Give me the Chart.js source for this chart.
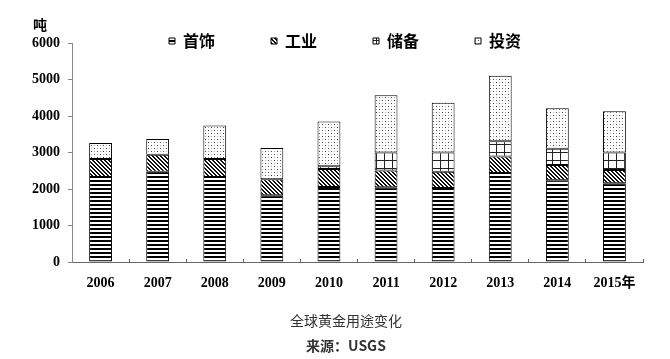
<!DOCTYPE html>
<html><head><meta charset="utf-8">
<script src="https://cdn.jsdelivr.net/npm/chart.js@4/dist/chart.umd.min.js"></script>
<style>
html,body{margin:0;padding:0;background:#fff;}
#wrap{position:relative;width:670px;height:359px;overflow:hidden;}
canvas{position:absolute;left:0;top:0;}
.t{position:absolute;white-space:nowrap;line-height:1;}
</style></head><body>
<div id="wrap">
<canvas id="c" width="670" height="359"></canvas>
<div class="t" style="left:33px;top:14px;font:bold 14px 'Noto Sans CJK SC';color:#000">吨</div>
<div class="t" style="left:0;width:692px;text-align:center;top:310px;font:14px 'Noto Sans CJK SC';color:#333">全球黄金用途变化</div>
<div class="t" style="left:0;width:692px;text-align:center;top:335px;font:bold 14px 'Noto Sans CJK SC';color:#333">来源：USGS</div>
</div>
<script>
const categories = ['2006','2007','2008','2009','2010','2011','2012','2013','2014','2015年'];
const seriesNames = ['首饰','工业','储备','投资'];
const jewelry    = [2330, 2470, 2330, 1830, 2055, 2045, 2030, 2440, 2240, 2160];
const industry   = [490, 470, 490, 440, 495, 465, 440, 450, 420, 360];
const reserve    = [null, null, null, null, 70, 490, 530, 420, 440, 480];
const investment = [440, 430, 920, 850, 1230, 1570, 1360, 1790, 1110, 1130];
const yTicks = [0, 1000, 2000, 3000, 4000, 5000, 6000];

function makePattern(w, h, draw) {
  const c = document.createElement('canvas');
  c.width = w; c.height = h;
  const x = c.getContext('2d');
  x.fillStyle = '#fff'; x.fillRect(0, 0, w, h);
  draw(x);
  return x.createPattern(c, 'repeat');
}
const pJewelry = makePattern(4, 4, x => { x.fillStyle = '#000'; x.fillRect(0, 0, 4, 2); });
const pIndustry = makePattern(4, 4, x => {
  x.fillStyle = '#111';
  for (let i = 0; i < 4; i++) { x.fillRect(i, i, 1, 1); x.fillRect((i + 1) % 4, i, 1, 1); }
});
const pReserve = makePattern(8, 8, x => { x.fillStyle = '#222'; x.fillRect(0, 0, 8, 1); x.fillRect(0, 0, 1, 8); });
const pInvest = makePattern(6, 6, x => {
  x.fillStyle = '#444'; x.fillRect(1, 1, 1, 1); x.fillRect(4, 4, 1, 1);
  x.fillStyle = '#aaa'; x.fillRect(1, 4, 1, 1); x.fillRect(4, 1, 1, 1);
});

const LEGEND_X = 169, LEGEND_Y = 41;
const legendPlace = {
  id: 'legendPlace',
  beforeLayout(chart) {
    const lg = chart.legend; if (!lg || lg.__wrapped) return;
    lg.__wrapped = true;
    const orig = lg.fit.bind(lg);
    lg.fit = function () { orig(); this.__realH = this.height; this.height = 0; };
  },
  afterLayout(chart) {
    const lg = chart.legend; if (!lg || !lg.lineWidths) return;
    const pad = lg.options.labels.padding;
    const startX = (lg.left + pad + lg.right - lg.lineWidths[0]) / 2;
    const dx = LEGEND_X - startX;
    lg.left += dx; lg.right += dx;
    const ih = lg._itemHeight || lg.options.labels.font.size;
    lg.top = LEGEND_Y - pad - ih / 2;
    lg.bottom = lg.top + (lg.__realH || 200);
  }
};

const serif = "'Liberation Serif', 'Noto Sans CJK SC'";
const common = { borderColor: '#000', borderWidth: 1, borderSkipped: false, categoryPercentage: 0.8, barPercentage: 0.5 };

new Chart(document.getElementById('c'), {
  type: 'bar',
  data: {
    labels: categories,
    datasets: [
      Object.assign({ label: seriesNames[0], data: jewelry, backgroundColor: pJewelry }, common),
      Object.assign({ label: seriesNames[1], data: industry, backgroundColor: pIndustry }, common),
      Object.assign({ label: seriesNames[2], data: reserve, backgroundColor: pReserve }, common),
      Object.assign({ label: seriesNames[3], data: investment, backgroundColor: pInvest }, common)
    ]
  },
  options: {
    responsive: false,
    animation: false,
    layout: { padding: { left: 32, right: 27, top: 43, bottom: 57 } },
    plugins: {
      legend: {
        position: 'top',
        align: 'center',
        labels: {
          boxWidth: 6, boxHeight: 6, padding: 56, color: '#000',
          font: { family: "'Noto Sans CJK SC'", size: 16, weight: 'bold' }
        }
      },
      tooltip: { enabled: false },
      title: { display: false }
    },
    scales: {
      x: {
        stacked: true,
        afterFit: s => { s.height = 40; },
        grid: { display: true, drawOnChartArea: false, drawTicks: true, tickLength: -3, color: '#666', offset: true },
        border: { display: true, color: '#666', width: 1 },
        ticks: { color: '#000', padding: 16, maxRotation: 0, autoSkip: false, font: { family: serif, size: 14, weight: 'bold' } }
      },
      y: {
        stacked: true,
        min: 0, max: 6000,
        afterFit: s => { s.width = 40; },
        afterBuildTicks: s => { s.ticks = yTicks.map(v => ({ value: v })); },
        grid: { display: true, drawOnChartArea: false, drawTicks: true, tickLength: 4, color: '#888' },
        border: { display: true, color: '#888', width: 1 },
        ticks: { color: '#000', padding: 8, callback: v => String(v), font: { family: serif, size: 14, weight: 'bold' } }
      }
    }
  },
  plugins: [legendPlace]
});
</script>
</body></html>
